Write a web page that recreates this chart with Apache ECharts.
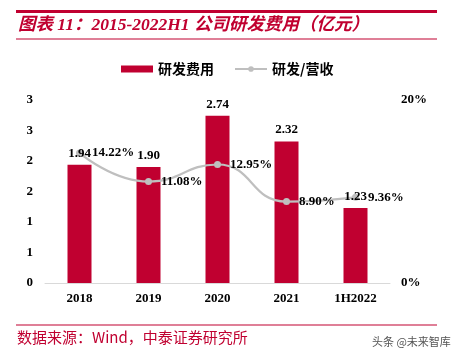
<!DOCTYPE html>
<html>
<head>
<meta charset="utf-8">
<style>html,body{margin:0;padding:0;background:#fff;}#c{width:461px;height:357px;}</style>
<script src="https://cdn.jsdelivr.net/npm/echarts@6/dist/echarts.min.js"></script>
</head>
<body>
<div id="c"></div>
<script>
var categories = ['2018', '2019', '2020', '2021', '1H2022'];
var rdExpense = [1.94, 1.90, 2.74, 2.32, 1.23];
var rdRatio = [14.22, 11.08, 12.95, 8.90, 9.36];
var RED = '#c00030';
var chart = echarts.init(document.getElementById('c'));
var serif = '"Liberation Serif", "Times New Roman", serif';
var valLabel = {color: '#000', fontFamily: serif, fontWeight: 'bold', fontSize: 13, opacity: 1};
chart.setOption({
  animation: false,
  graphic: [
    {type: 'rect', shape: {x: 16, y: 10, width: 421, height: 3}, style: {fill: RED}},
    {type: 'text', left: 18, top: 17, style: {text: '图表 11：2015-2022H1 公司研发费用（亿元）', fill: RED, font: 'italic bold 17.5px "Liberation Serif", "Noto Sans CJK SC", serif'}},
    {type: 'rect', shape: {x: 16, y: 38.5, width: 421, height: 1}, style: {fill: RED}},
    {type: 'rect', shape: {x: 16, y: 324.5, width: 421, height: 1}, style: {fill: RED}},
    {type: 'text', left: 17, top: 330, style: {text: '数据来源：Wind，中泰证券研究所', fill: RED, font: '15px "Noto Sans CJK SC", sans-serif'}},
    {type: 'text', left: 372, top: 336, style: {text: '头条 @未来智库', fill: '#555', font: '11px "Noto Sans CJK SC", sans-serif'}}
  ],
  legend: {
    top: 62, left: 121, padding: 0,
    itemGap: 20,
    itemWidth: 32, itemHeight: 7,
    textStyle: {fontFamily: '"Noto Sans CJK SC", sans-serif', fontWeight: 'bold', fontSize: 14, color: '#000'},
    data: [
      {name: '研发费用', icon: 'rect'},
      {name: '研发/营收'}
    ]
  },
  grid: {left: 45, right: 71, top: 100, bottom: 74},
  xAxis: {
    type: 'category', data: categories,
    axisLine: {lineStyle: {color: '#d9d9d9'}},
    axisTick: {show: false},
    axisLabel: {color: '#000', fontFamily: serif, fontWeight: 'bold', fontSize: 13, margin: 9}
  },
  yAxis: [
    {
      type: 'value', min: 0, max: 3, interval: 0.5,
      splitLine: {show: false}, axisLine: {show: false}, axisTick: {show: false},
      axisLabel: {color: '#000', fontFamily: serif, fontWeight: 'bold', fontSize: 13, margin: 12,
        formatter: function (v) { return String(Math.round(v)); }}
    },
    {
      type: 'value', min: 0, max: 20, interval: 20,
      splitLine: {show: false}, axisLine: {show: false}, axisTick: {show: false},
      axisLabel: {color: '#000', fontFamily: serif, fontWeight: 'bold', fontSize: 13, margin: 11,
        formatter: '{value}%'}
    }
  ],
  series: [
    {
      name: '研发费用', type: 'bar', data: rdExpense, barWidth: 24,
      itemStyle: {color: RED}, z: 2
    },
    {
      name: '研发/营收', type: 'line', yAxisIndex: 1, data: rdRatio, smooth: true,
      symbol: 'circle', symbolSize: 7,
      lineStyle: {color: '#bfbfbf', width: 2.2},
      itemStyle: {color: '#bfbfbf'},
      label: Object.assign({show: true, position: 'right', distance: 9,
        formatter: function (p) { return p.value.toFixed(2) + '%'; }}, valLabel),
      z: 5
    },
    {
      name: '费用标签', type: 'scatter', data: rdExpense, symbolSize: 0,
      itemStyle: {color: '#000', opacity: 1}, silent: true,
      label: Object.assign({show: true, position: 'top', distance: 5,
        formatter: function (p) { return p.value.toFixed(2); }}, valLabel),
      z: 10
    }
  ]
});
</script>
</body>
</html>
